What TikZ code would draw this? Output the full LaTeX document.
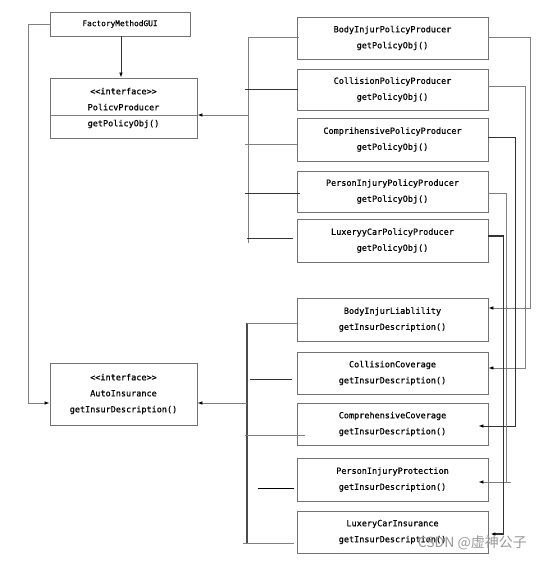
\documentclass[tikz,border=0pt]{standalone}
\usepackage{fontspec}
\newfontfamily\umlfont[FakeBold=0.6]{DejaVu Sans Mono}
\newfontfamily\wmfont{Noto Sans CJK SC}
\usetikzlibrary{arrows.meta,calc}
\begin{document}
\begin{tikzpicture}[x=1pt,y=-1pt,
  box/.style={draw=black!55,line width=0.9pt,rectangle,inner sep=0pt,align=center,
    font=\umlfont\fontsize{8.5}{16}\selectfont,minimum width=191pt},
  wire/.style={draw=black!50,line width=0.9pt},
  dwire/.style={draw=black!80,line width=0.9pt},
  arr/.style={-{Latex[length=5pt,width=3.6pt,color=black]}},
]
\useasboundingbox[fill=white] (0,0) rectangle (541,561);

% left column
\node[box,minimum width=140pt,minimum height=24pt,font=\umlfont\fontsize{7.8}{10}\selectfont] (gui) at (120,24) {FactoryMethodGUI};
\node[box,minimum width=147pt,minimum height=60pt] (pp) at (123.5,108) {<<interface>>\\PolicvProducer\\getPolicyObj()};
\node[box,minimum width=147pt,minimum height=62pt] (ai) at (123.5,394) {<<interface>>\\AutoInsurance\\getInsurDescription()};
\draw[wire] ($(pp.west)+(0,7)$) -- ($(pp.east)+(0,7)$);

% producers
\node[box,minimum height=42pt] (bp) at (392.5,38) {BodyInjurPolicyProducer\\getPolicyObj()};
\node[box,minimum height=41pt] (cp) at (392.5,89.5) {CollisionPolicyProducer\\getPolicyObj()};
\node[box,minimum height=43pt] (comp) at (392.5,139.5) {ComprihensivePolicyProducer\\getPolicyObj()};
\node[box,minimum height=41pt] (pip) at (392.5,191.5) {PersonInjuryPolicyProducer\\getPolicyObj()};
\node[box,minimum height=43pt] (lcp) at (392.5,240.5) {LuxeryyCarPolicyProducer\\getPolicyObj()};

% insurances
\node[box,minimum height=43pt] (bl) at (392.5,319.5) {BodyInjurLiablility\\getInsurDescription()};
\node[box,minimum height=42pt] (cc) at (392.5,373) {CollisionCoverage\\getInsurDescription()};
\node[box,minimum height=42pt] (cov) at (392.5,424) {ComprehensiveCoverage\\getInsurDescription()};
\node[box,minimum height=43pt] (pin) at (392.5,479.5) {PersonInjuryProtection\\getInsurDescription()};
\node[box,minimum height=42pt] (lci) at (392.5,532) {LuxeryCarInsurance\\getInsurDescription()};

% GUI connections
\draw[dwire,arr] ($(gui.south)+(1,0)$) -- ($(gui.south |- pp.north)+(1,0)$);
\draw[wire,arr] (gui.west) -- ++(-21,0) |- ($(ai.west)+(0,9)$);

% top bus
\coordinate (pb) at (248,115);
\coordinate (pbt) at (248,37);
\coordinate (pbb) at (248,243);
\draw[wire] (pbt) -- (pbb);
\draw[wire,arr] (pb) -- ($(pp.east)+(0,7)$);
\draw[wire] (pbt) -- ($(bp.west)+(2,-1)$);
\draw[dwire] ($(pb |- cp.west)+(-3,-0.5)$) -- ($(cp.west)+(1,-0.5)$);
\draw[wire] ($(pb |- comp.west)+(-3,4.5)$) -- ($(comp.west)+(0,4.5)$);
\draw[dwire] ($(pb |- pip.west)+(-3,1.5)$) -- ($(pip.west)+(3,1.5)$);
\draw[dwire] ($(pb |- lcp.west)+(-1,-2.5)$) -- ($(lcp.west)+(-4,-2.5)$);

% bottom bus
\coordinate (ab) at (247,403);
\coordinate (abt) at (247,323);
\coordinate (abb) at (247,543);
\draw[draw=black!70,line width=1.3pt] (abt) -- (abb);
\draw[wire,arr] (ab) -- ($(ai.east)+(0,9)$);
\draw[wire] (abt) -- ($(bl.west)+(0,3.5)$);
\draw[dwire] ($(ab |- cc.west)+(3,6)$) -- ($(cc.west)+(-5,6)$);
\draw[wire] ($(ab |- cov.west)+(-2,11)$) -- ($(cov.west)+(8,11)$);
\draw[black,line width=1pt] ($(ab |- pin.west)+(11,8.5)$) -- ($(pin.west)+(-3,8.5)$);
\draw[wire] ($(abb)+(-4,0)$) -- ($(lci.west)+(-3,11)$);

% right routing
\draw[wire,arr] ($(bp.east)+(0,-1)$) -- ++(42,0) |- ($(bl.east)+(0,-11.5)$);
\draw[wire,arr] ($(cp.east)+(0,-3.5)$) -- ++(37,0) |- ($(cc.east)+(0,-5)$);
\draw[dwire,arr] ($(comp.east)+(0,-2.5)$) -- ++(27,0) |- ($(cov.east)+(-10,2)$);
\draw[wire,arr] ($(pip.east)+(0,1.5)$) -- ++(18,0) |- ($(pin.east)+(-10,2.5)$);
\draw[wire] ($(pin.east)+(18,2.5)$) -- ++(5,0);
\draw[dwire,line width=1.4pt,arr] ($(lcp.east)+(0,-4.5)$) -- ++(15,0) |- ($(lci.east)+(2,2)$);

% watermark
\node[text=black!40,font=\wmfont\fontsize{14}{14}\selectfont,anchor=east,inner sep=0pt] (wm) at (527,543) {CSDN @虚神公子};
\end{tikzpicture}
\end{document}
